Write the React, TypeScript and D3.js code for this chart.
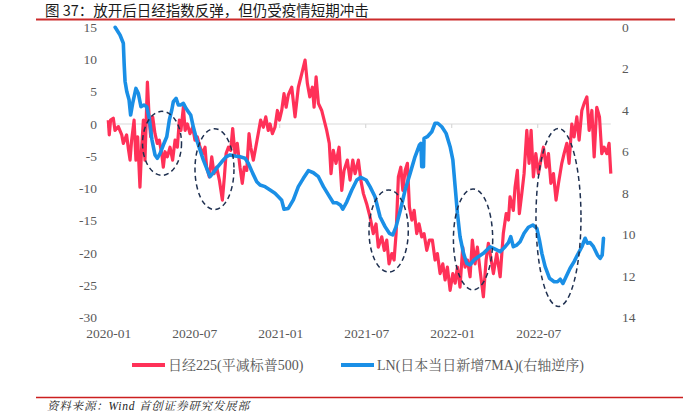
import React from "react";
import * as d3 from "d3";

// Nikkei 225 deflated by S&P 500 (left axis) : [months since 2020-01, value]
const nikkei: [number, number][] = [
  [0.04,0.6],[0.11,-1.7],[0.2,0.6],[0.39,0.9],[0.51,-1],[0.74,-0.4],[0.98,-1.7],[1.09,-3],[1.32,-1.7],[1.44,-3.8],[1.56,-5.6],[1.67,-2.5],[1.84,0.6],[1.97,-5.6],[2.09,-2],[2.25,-9.8],[2.37,-3.6],[2.49,0.6],[2.6,-5.6],[2.77,6.5],[2.9,0.6],[3.0,-2],[3.14,1.1],[3.3,-1.5],[3.46,-3],[3.6,-2.5],[3.77,-4.6],[3.88,-6.7],[4.0,-4.3],[4.16,-5.1],[4.35,-3.6],[4.53,-5.6],[4.7,-2.5],[4.86,-3.6],[5.0,0.6],[5.11,-1],[5.28,2.6],[5.4,-1],[5.56,0],[5.74,-1.5],[5.93,-0.5],[6.09,-2.5],[6.25,-2],[6.44,-3.6],[6.63,-4.6],[6.79,-3.6],[6.9,-6.7],[7.09,-8.2],[7.26,-5.1],[7.42,-7.7],[7.6,-6.7],[7.79,-8.7],[8.0,-11.8],[8.14,-8.2],[8.26,-4.6],[8.42,-3.6],[8.58,-4.1],[8.72,-0.7],[8.88,-4.6],[9.04,-3],[9.23,-6.7],[9.39,-9.2],[9.53,-6.7],[9.7,-7.2],[9.86,-1.5],[9.98,-3.6],[10.16,-5.6],[10.33,-3.6],[10.5,-1.5],[10.67,0.6],[10.86,-0.5],[11.03,1.1],[11.2,-1],[11.33,0],[11.49,-1.5],[11.67,-0.5],[11.84,2.1],[11.98,0.6],[12.14,2.1],[12.3,4.7],[12.45,2.6],[12.6,4.5],[12.84,5.7],[13.07,1.1],[13.3,5.7],[13.54,7.8],[13.77,9.9],[13.93,6.3],[14.1,4.2],[14.28,5.7],[14.4,2.6],[14.54,7.3],[14.7,3.2],[14.93,2.1],[15.1,0.6],[15.28,-1],[15.46,-3],[15.58,-7.7],[15.74,-4.1],[15.93,-6.1],[16.14,-3.6],[16.33,-10.3],[16.49,-7.2],[16.72,-5.6],[16.91,-8.7],[17.1,-5.6],[17.26,-7.7],[17.49,-5.6],[17.66,-8.7],[17.84,-10.8],[18.07,-12.4],[18.3,-14.4],[18.53,-17],[18.72,-15.5],[18.88,-19.1],[19.12,-17.5],[19.3,-19.6],[19.47,-18],[19.63,-21.7],[19.82,-20.1],[19.98,-21.1],[20.12,-17],[20.28,-8.2],[20.45,-6.7],[20.59,-10.3],[20.75,-7.2],[20.91,-6.1],[21.05,-12.9],[21.22,-14.9],[21.38,-13.4],[21.56,-17],[21.72,-15.5],[21.91,-17.5],[22.07,-17],[22.26,-19.6],[22.44,-18],[22.65,-18],[22.84,-21.1],[23.0,-20.1],[23.19,-23.2],[23.38,-21.7],[23.54,-24.2],[23.7,-22.2],[23.89,-25.8],[24.08,-23.2],[24.24,-24.7],[24.4,-22.2],[24.58,-25.3],[24.77,-19.1],[24.93,-22.2],[25.1,-21.1],[25.28,-23.7],[25.44,-18],[25.63,-21.7],[25.79,-19.1],[25.98,-22.7],[26.21,-26.8],[26.4,-21.1],[26.56,-18.5],[26.75,-21],[26.91,-23.2],[27.14,-20.1],[27.38,-23.7],[27.6,-17],[27.8,-13.9],[27.96,-14.9],[28.07,-11.3],[28.3,-13.4],[28.42,-9.8],[28.58,-7.2],[28.72,-13.9],[28.89,-10.8],[29.05,-7.7],[29.24,-1],[29.4,-6.1],[29.54,-1],[29.7,-8.2],[29.87,-4.6],[30.05,-7.7],[30.22,-5.6],[30.4,-3.6],[30.59,-6.7],[30.75,-4.6],[30.92,-9.2],[31.1,-7.7],[31.28,-11.8],[31.45,-9.2],[31.68,-6.1],[31.84,-4.6],[32.03,-3],[32.19,-6.1],[32.38,0],[32.54,-2],[32.73,1.1],[32.89,-2.5],[33.08,2.1],[33.24,3.2],[33.43,4.2],[33.59,-1],[33.78,2.1],[33.94,-5.1],[34.12,2.6],[34.31,1.1],[34.47,-4.6],[34.63,-3.6],[34.82,-4.6],[34.98,-3],[35.1,-7.7]
];

// LN of Japan daily new cases 7MA (right axis, reversed) : [months since 2020-01, value]
const cases: [number, number][] = [
  [0.52,0],[0.86,0.37],[1.09,0.77],[1.15,1.8],[1.21,2.6],[1.33,3.1],[1.49,3.5],[1.6,4.23],[1.74,3.67],[1.97,2.95],[2.14,3.2],[2.32,3.83],[2.53,3.75],[2.72,3.83],[2.9,4.4],[3.09,5.44],[3.3,6.16],[3.46,6.32],[3.65,6.1],[3.88,5.68],[4.12,5.28],[4.3,4.47],[4.47,3.99],[4.58,3.59],[4.77,3.43],[4.93,3.75],[5.09,3.75],[5.28,3.67],[5.46,3.91],[5.62,4.07],[5.79,4.23],[5.97,4.8],[6.21,5.44],[6.44,5.92],[6.67,6.4],[6.9,6.8],[7.14,7.21],[7.33,7.05],[7.6,6.8],[7.96,6.49],[8.26,6.25],[8.53,6.16],[8.88,6.21],[9.23,6.25],[9.58,6.32],[9.81,6.56],[10.12,7.05],[10.4,7.45],[10.63,7.61],[10.98,7.69],[11.33,7.85],[11.67,8.01],[11.91,8.18],[12.14,8.35],[12.3,8.78],[12.6,8.74],[12.95,8.33],[13.3,7.69],[13.65,7.29],[14.0,6.92],[14.35,7.02],[14.7,7.21],[15.05,7.69],[15.4,8.09],[15.74,8.47],[15.98,8.47],[16.24,8.58],[16.4,8.78],[16.68,8.42],[17.03,7.85],[17.38,7.37],[17.66,7.24],[18.03,7.37],[18.3,7.69],[18.65,8.18],[19.0,9.14],[19.35,9.62],[19.65,9.94],[19.89,10.02],[20.12,9.62],[20.42,8.82],[20.75,7.85],[21.1,7.05],[21.44,6.25],[21.75,5.68],[21.85,5.6],[21.91,6.73],[22.03,6.73],[22.07,5.36],[22.3,5.28],[22.61,5.04],[22.84,4.63],[23.03,4.63],[23.31,4.8],[23.61,5.12],[23.89,5.76],[24.08,6.4],[24.24,7.69],[24.4,8.98],[24.58,10.1],[24.82,10.9],[25.05,11.39],[25.28,11.47],[25.56,11.23],[25.86,11.07],[26.21,10.91],[26.68,10.59],[27.03,10.71],[27.38,10.83],[27.73,10.59],[27.96,10.39],[28.12,10.1],[28.3,10.59],[28.54,10.51],[28.77,10.35],[29.05,9.94],[29.35,9.65],[29.66,9.54],[29.94,9.7],[30.12,10.27],[30.29,10.91],[30.52,11.55],[30.82,12.11],[31.15,12.28],[31.38,12.28],[31.57,12.16],[31.76,12.36],[31.98,12.04],[32.26,11.63],[32.54,11.31],[32.77,10.99],[33.08,10.59],[33.31,10.18],[33.47,10.42],[33.66,10.39],[33.89,10.59],[34.17,10.99],[34.36,11.15],[34.5,10.99],[34.59,10.18]
];

const xTickMonths = [0, 6, 12, 18, 24, 30];
const xTickLabels = ["2020-01", "2020-07", "2021-01", "2021-07", "2022-01", "2022-07"];
const leftTicks = [15, 10, 5, 0, -5, -10, -15, -20, -25, -30];
const rightTicks = [0, 2, 4, 6, 8, 10, 12, 14];

// dashed highlight ellipses: [centre month, centre value (left axis), half-width months, half-height units]
const highlights: [number, number, number, number][] = [
  [3.79, -3.0, 1.36, 4.96],
  [7.45, -7.0, 1.36, 6.28],
  [19.6, -16.6, 1.37, 6.36],
  [25.49, -17.9, 1.37, 7.83],
  [31.45, -14.5, 1.57, 13.8],
];

const title = "图 37：放开后日经指数反弹，但仍受疫情短期冲击";
const legendRed = "日经225(平减标普500)";
const legendBlue = "LN(日本当日新增7MA)(右轴逆序)";
const source = "资料来源：Wind 首创证券研究发展部";

const RED = "#ff3158";
const BLUE = "#1a8fe6";
const GRAY = "#595959";
const SERIF = "'Liberation Serif', 'Times New Roman', 'Noto Serif CJK SC', 'Noto Sans CJK SC', serif";

export default function App() {
  const W = 691, H = 412;
  const x = d3.scaleLinear().domain([0, 35.1]).range([107.7, 610.8]);
  const yL = d3.scaleLinear().domain([-30, 15]).range([317.4, 27.3]);
  const yR = d3.scaleLinear().domain([0, 14]).range([27.3, 317.4]);

  const redLine = d3.line<[number, number]>().x(d => x(d[0])).y(d => yL(d[1]));
  const blueLine = d3.line<[number, number]>().x(d => x(d[0])).y(d => yR(d[1]));

  return (
    <div style={{ position: "fixed", left: 0, top: 0 }}>
      <svg width={W} height={H} viewBox={`0 0 ${W} ${H}`} style={{ display: "block", background: "#fff" }}>
        <text x={45} y={16} fontFamily="'Noto Sans CJK SC', sans-serif" fontSize={14.5} fill="#1a1a1a">{title}</text>
        <line x1={36} x2={675} y1={19.5} y2={19.5} stroke="#cc2b2b" strokeWidth={2} />

        {/* zero line with ticks */}
        <line x1={x(0)} x2={x(35.1)} y1={yL(0)} y2={yL(0)} stroke="#d9d9d9" strokeWidth={1.2} />
        {xTickMonths.map(m => (
          <line key={m} x1={x(m)} x2={x(m)} y1={yL(0)} y2={yL(0) + 4} stroke="#d9d9d9" strokeWidth={1.2} />
        ))}

        {leftTicks.map(t => (
          <text key={t} x={97} y={yL(t)} dy="0.35em" textAnchor="end" fontFamily={SERIF} fontSize={13.5} fill={GRAY}>{t}</text>
        ))}
        {rightTicks.map(t => (
          <text key={t} x={622} y={yR(t)} dy="0.35em" textAnchor="start" fontFamily={SERIF} fontSize={13.5} fill={GRAY}>{t}</text>
        ))}
        {xTickMonths.map((m, i) => (
          <text key={m} x={x(m) + 1} y={338} textAnchor="middle" fontFamily={SERIF} fontSize={13.5} fill={GRAY}>{xTickLabels[i]}</text>
        ))}

        <path d={redLine(nikkei) || ""} fill="none" stroke={RED} strokeWidth={3.2} strokeLinejoin="round" />
        <path d={blueLine(cases) || ""} fill="none" stroke={BLUE} strokeWidth={3.6} strokeLinejoin="round" strokeLinecap="round" />

        {highlights.map((e, i) => (
          <ellipse key={i} cx={x(e[0])} cy={yL(e[1])}
            rx={x(e[0] + e[2]) - x(e[0])} ry={yL(e[1] - e[3]) - yL(e[1])}
            fill="none" stroke="#1f3050" strokeWidth={1.5} strokeDasharray="5,3.5" />
        ))}

        {/* legend */}
        <line x1={132} x2={165} y1={365} y2={365} stroke={RED} strokeWidth={4} />
        <text x={168} y={365} dy="0.35em" fontFamily={SERIF} fontSize={14} fill={GRAY}>{legendRed}</text>
        <line x1={341} x2={374} y1={365} y2={365} stroke={BLUE} strokeWidth={4} />
        <text x={377} y={365} dy="0.35em" fontFamily={SERIF} fontSize={14} fill={GRAY}>{legendBlue}</text>

        <line x1={36} x2={683} y1={397.5} y2={397.5} stroke="#cc1f1f" strokeWidth={1.5} />
        <text x={47} y={410} fontFamily={SERIF} fontStyle="italic" fontSize={11.5} fill="#222" letterSpacing={0.8}>{source}</text>
      </svg>
    </div>
  );
}
